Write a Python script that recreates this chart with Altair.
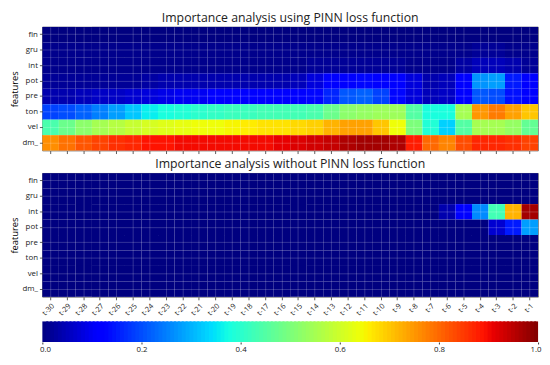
import altair as alt
import numpy as np
import pandas as pd

features = ["fin", "gru", "int", "pot", "pre", "ton", "vel", "dm_"]
lags = ["t-30", "t-29", "t-28", "t-27", "t-26", "t-25", "t-24", "t-23", "t-22", "t-21",
        "t-20", "t-19", "t-18", "t-17", "t-16", "t-15", "t-14", "t-13", "t-12", "t-11",
        "t-10", "t-9", "t-8", "t-7", "t-6", "t-5", "t-4", "t-3", "t-2", "t-1"]

# Importance with PINN loss (rows = features, columns = lags t-30 ... t-1)
pinn_fin = [0.00, 0.00, 0.00, 0.00, 0.00, 0.00, 0.00, 0.00, 0.00, 0.00,
            0.00, 0.00, 0.00, 0.00, 0.00, 0.00, 0.00, 0.00, 0.00, 0.00,
            0.00, 0.00, 0.00, 0.00, 0.00, 0.00, 0.00, 0.00, 0.00, 0.00]
pinn_gru = [0.01, 0.01, 0.01, 0.01, 0.01, 0.01, 0.01, 0.01, 0.01, 0.01,
            0.01, 0.01, 0.01, 0.01, 0.01, 0.01, 0.01, 0.01, 0.01, 0.01,
            0.01, 0.01, 0.01, 0.01, 0.01, 0.01, 0.02, 0.02, 0.01, 0.01]
pinn_int = [0.01, 0.01, 0.01, 0.01, 0.01, 0.01, 0.01, 0.01, 0.01, 0.01,
            0.01, 0.01, 0.01, 0.01, 0.01, 0.01, 0.02, 0.02, 0.02, 0.02,
            0.02, 0.02, 0.01, 0.01, 0.01, 0.03, 0.05, 0.05, 0.04, 0.02]
pinn_pot = [0.02, 0.02, 0.02, 0.02, 0.02, 0.02, 0.03, 0.04, 0.04, 0.04,
            0.04, 0.04, 0.04, 0.04, 0.04, 0.05, 0.08, 0.11, 0.12, 0.13,
            0.12, 0.11, 0.08, 0.04, 0.05, 0.12, 0.27, 0.28, 0.15, 0.12]
pinn_pre = [0.04, 0.04, 0.05, 0.06, 0.06, 0.07, 0.08, 0.09, 0.10, 0.10,
            0.11, 0.11, 0.11, 0.12, 0.12, 0.12, 0.13, 0.16, 0.21, 0.22,
            0.19, 0.13, 0.08, 0.05, 0.06, 0.12, 0.21, 0.20, 0.14, 0.12]
pinn_ton = [0.19, 0.20, 0.22, 0.25, 0.28, 0.32, 0.36, 0.38, 0.39, 0.40,
            0.41, 0.42, 0.42, 0.43, 0.43, 0.43, 0.44, 0.48, 0.52, 0.53,
            0.54, 0.54, 0.45, 0.38, 0.38, 0.55, 0.75, 0.78, 0.74, 0.70]
pinn_vel = [0.44, 0.48, 0.52, 0.55, 0.57, 0.59, 0.61, 0.62, 0.63, 0.64,
            0.64, 0.65, 0.66, 0.67, 0.67, 0.68, 0.69, 0.72, 0.74, 0.74,
            0.70, 0.64, 0.50, 0.39, 0.33, 0.45, 0.55, 0.55, 0.53, 0.47]
pinn_dm = [0.76, 0.79, 0.82, 0.84, 0.86, 0.87, 0.89, 0.89, 0.90, 0.90,
           0.90, 0.90, 0.90, 0.90, 0.91, 0.92, 0.93, 0.94, 0.96, 0.97,
           0.97, 0.96, 0.88, 0.80, 0.77, 0.83, 0.87, 0.87, 0.86, 0.84]

# Importance without PINN loss
base_fin = [0.00, 0.00, 0.00, 0.00, 0.00, 0.00, 0.00, 0.00, 0.00, 0.00,
            0.00, 0.00, 0.00, 0.00, 0.00, 0.00, 0.00, 0.00, 0.00, 0.00,
            0.00, 0.00, 0.00, 0.00, 0.00, 0.00, 0.00, 0.00, 0.00, 0.00]
base_gru = [0.00, 0.00, 0.00, 0.00, 0.00, 0.00, 0.00, 0.00, 0.00, 0.00,
            0.00, 0.00, 0.00, 0.00, 0.00, 0.00, 0.00, 0.00, 0.00, 0.00,
            0.00, 0.00, 0.00, 0.00, 0.00, 0.00, 0.00, 0.00, 0.00, 0.00]
base_int = [0.00, 0.00, 0.00, 0.00, 0.00, 0.00, 0.00, 0.00, 0.00, 0.00,
            0.00, 0.00, 0.00, 0.00, 0.00, 0.00, 0.00, 0.00, 0.00, 0.00,
            0.00, 0.00, 0.00, 0.00, 0.04, 0.12, 0.26, 0.43, 0.72, 0.97]
base_pot = [0.00, 0.00, 0.00, 0.00, 0.00, 0.00, 0.00, 0.00, 0.00, 0.00,
            0.00, 0.00, 0.00, 0.00, 0.00, 0.00, 0.00, 0.00, 0.00, 0.00,
            0.00, 0.00, 0.00, 0.00, 0.00, 0.00, 0.00, 0.07, 0.15, 0.28]
base_pre = [0.00, 0.00, 0.00, 0.00, 0.00, 0.00, 0.00, 0.00, 0.00, 0.00,
            0.00, 0.00, 0.00, 0.00, 0.00, 0.00, 0.00, 0.00, 0.00, 0.00,
            0.00, 0.00, 0.00, 0.00, 0.00, 0.00, 0.00, 0.00, 0.00, 0.00]
base_ton = [0.00, 0.00, 0.00, 0.00, 0.00, 0.00, 0.00, 0.00, 0.00, 0.00,
            0.00, 0.00, 0.00, 0.00, 0.00, 0.00, 0.00, 0.00, 0.00, 0.00,
            0.00, 0.00, 0.00, 0.00, 0.00, 0.00, 0.00, 0.00, 0.00, 0.00]
base_vel = [0.00, 0.00, 0.00, 0.00, 0.00, 0.00, 0.00, 0.00, 0.00, 0.00,
            0.00, 0.00, 0.00, 0.00, 0.00, 0.00, 0.00, 0.00, 0.00, 0.00,
            0.00, 0.00, 0.00, 0.00, 0.00, 0.00, 0.00, 0.00, 0.00, 0.00]
base_dm = [0.00, 0.00, 0.00, 0.00, 0.00, 0.00, 0.00, 0.00, 0.00, 0.00,
           0.00, 0.00, 0.00, 0.00, 0.00, 0.00, 0.00, 0.00, 0.00, 0.00,
           0.00, 0.00, 0.00, 0.00, 0.00, 0.00, 0.00, 0.00, 0.00, 0.00]

colorbar_ticks = [0.0, 0.2, 0.4, 0.6, 0.8, 1.0]

titles = ["Importance analysis using PINN loss function",
          "Importance analysis without PINN loss function"]


def to_frame(rows):
    recs = []
    for f, vals in zip(features, rows):
        for lag, v in zip(lags, vals):
            recs.append({"feature": f, "lag": lag, "value": v})
    return pd.DataFrame(recs)


df_pinn = to_frame([pinn_fin, pinn_gru, pinn_int, pinn_pot, pinn_pre, pinn_ton, pinn_vel, pinn_dm])
df_base = to_frame([base_fin, base_gru, base_int, base_pot, base_pre, base_ton, base_vel, base_dm])

# matplotlib "jet" colormap, exact piecewise-linear definition
JET_R = [(0.0, 0.0), (0.35, 0.0), (0.66, 1.0), (0.89, 1.0), (1.0, 0.5)]
JET_G = [(0.0, 0.0), (0.125, 0.0), (0.375, 1.0), (0.64, 1.0), (0.91, 0.0), (1.0, 0.0)]
JET_B = [(0.0, 0.5), (0.11, 1.0), (0.34, 1.0), (0.65, 0.0), (1.0, 0.0)]
stops = sorted(set(p for seg in (JET_R, JET_G, JET_B) for p, _ in seg))


def chan(seg, t):
    return float(np.interp(t, [p for p, _ in seg], [v for _, v in seg]))


jet_colors = ["#%02x%02x%02x" % tuple(int(round(255 * chan(s, t))) for s in (JET_R, JET_G, JET_B))
              for t in stops]
jet = alt.Scale(domain=stops, range=jet_colors, interpolate="rgb")

FONT = "Open Sans"
W = 505
H = 126
grid_kw = dict(grid=True, gridColor="white", gridOpacity=0.25, gridWidth=0.8,
               zindex=1, bandPosition=0.5, domain=False, tickSize=3, tickColor="#333",
               tickWidth=0.8)

y_axis = alt.Axis(title="features", titleFontSize=9.5, titleFontWeight="normal",
                  titleFont=FONT, titlePadding=3, labelFont=FONT, labelFontSize=8,
                  labelPadding=2, labelColor="#222", **grid_kw)


def heat(df, title, show_labels):
    if show_labels:
        x_axis = alt.Axis(title=None, labelAngle=-45, labelFont=FONT, labelFontSize=7.5,
                          labelPadding=2, labelColor="#222", **grid_kw)
    else:
        x_axis = alt.Axis(title=None, labels=False, **grid_kw)
    return alt.Chart(df).mark_rect().encode(
        x=alt.X("lag:O", sort=lags, axis=x_axis),
        y=alt.Y("feature:O", sort=features, axis=y_axis),
        color=alt.Color("value:Q", scale=jet, legend=None),
    ).properties(
        width=W, height=H,
        title=alt.TitleParams(title, font=FONT, fontSize=12.5, fontWeight="normal",
                              color="#222", offset=3, anchor="middle"),
    )


# colour bar (gradient strip drawn through the same colour scale)
cb_steps = np.linspace(0.0, 1.0, 129)
cb = pd.DataFrame({"v": cb_steps[:-1], "v2": np.minimum(cb_steps[1:] + 0.004, 1.0)})
cb["mid"] = (cb_steps[:-1] + cb_steps[1:]) / 2

colorbar = alt.Chart(cb).mark_rect().encode(
    x=alt.X("v:Q", scale=alt.Scale(domain=[0, 1], nice=False, zero=False),
            axis=alt.Axis(title=None, values=colorbar_ticks, format=".1f", grid=False,
                          domain=False, tickSize=2, tickColor="#333", labelFont=FONT,
                          labelFontSize=8, labelPadding=2, labelColor="#222",
                          labelFlush=True, labelFlushOffset=3)),
    x2="v2:Q",
    color=alt.Color("mid:Q", scale=jet, legend=None),
).properties(width=W, height=21, view=alt.ViewBackground(stroke="transparent"))

chart = alt.vconcat(
    heat(df_pinn, titles[0], False),
    heat(df_base, titles[1], True),
    colorbar,
    spacing=3,
).properties(padding={"left": 0, "top": 0, "right": 0, "bottom": 0}).configure_view(
    stroke="#555", strokeWidth=0.8
)

chart.save("out.html", embed_options={"renderer": "svg", "actions": False})
